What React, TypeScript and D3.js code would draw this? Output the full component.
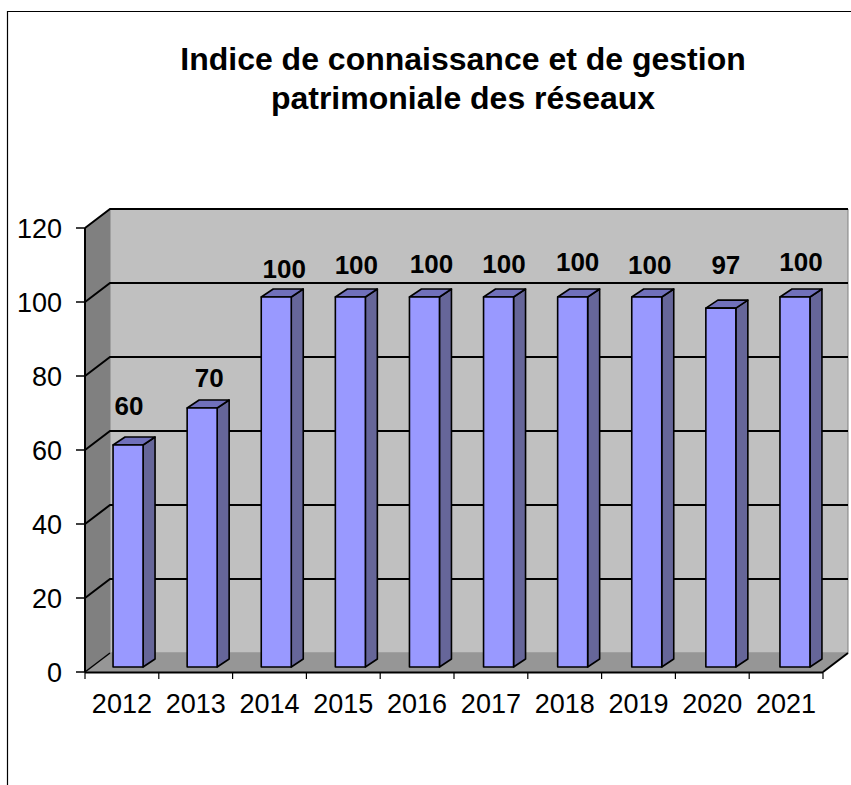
import * as d3 from "d3";

const years = ["2012", "2013", "2014", "2015", "2016", "2017", "2018", "2019", "2020", "2021"];
const values = [60, 70, 100, 100, 100, 100, 100, 100, 97, 100];
const yTicks = [0, 20, 40, 60, 80, 100, 120];
const titleLines = ["Indice de connaissance et de gestion", "patrimoniale des réseaux"];
// the labels sit unevenly in the original, px off the bar's front top edge
const labelLift = [39, 30, 28, 32, 33, 33, 35, 32, 43, 35];
const labelShift = [1, 7, 8, 6, 7, 5.5, 5, 3, 5, 6];

const WIDTH = 851;
const HEIGHT = 785;
const FONT = "'Liberation Sans', Arial, sans-serif";

// 3d box: front plane plus a depth offset to the back wall
const DEPTH_X = 25;
const DEPTH_Y = 19;
const BAR_DY = 5;
const BAR_W = 30;
const BAR_DEPTH_X = 12;
const BAR_DEPTH_Y = 8;

const x = d3.scaleBand<string>().domain(years).range([85, 823]);
// bars step a touch wider than the axis categories
const xBar = d3.scaleBand<string>().domain(years).range([91, 832]);
const y = d3.scaleLinear().domain([0, 120]).range([672, 228]);

const poly = (pts: [number, number][]) => d3.line()(pts) + "Z";

export default function App() {
  const x0 = x.range()[0];
  const x1 = x.range()[1];
  const y0 = y(0);
  const yTop = y(120);

  return (
    <svg
      width={WIDTH}
      height={HEIGHT}
      style={{ position: "absolute", left: 0, top: 0, background: "#fff" }}
      fontFamily={FONT}
    >
      {/* frame, cut off by the crop on the right and bottom */}
      <path d={`M7.5,${HEIGHT}V11.5H${WIDTH}`} fill="none" stroke="#000" strokeWidth={1.2} />

      {titleLines.map((t, i) => (
        <text key={t} x={463} y={70 + i * 38.5} textAnchor="middle" fontSize={32} fontWeight="bold" fill="#000">
          {t}
        </text>
      ))}

      {/* walls */}
      <path
        d={poly([[x0 + DEPTH_X, yTop - DEPTH_Y], [x1 + DEPTH_X, yTop - DEPTH_Y], [x1 + DEPTH_X, y0 - DEPTH_Y], [x0 + DEPTH_X, y0 - DEPTH_Y]])}
        fill="#c0c0c0"
        stroke="#808080"
      />
      <path
        d={poly([[x0, yTop], [x0 + DEPTH_X, yTop - DEPTH_Y], [x0 + DEPTH_X, y0 - DEPTH_Y], [x0, y0]])}
        fill="#808080"
      />
      <path
        d={poly([[x0, y0], [x0 + DEPTH_X, y0 - DEPTH_Y], [x1 + DEPTH_X, y0 - DEPTH_Y], [x1, y0]])}
        fill="#969696"
      />

      {/* gridlines run from the front edge round the left wall and along the back */}
      {yTicks.map((t) => (
        <path
          key={t}
          d={`M${x0},${y(t)}L${x0 + DEPTH_X},${y(t) - DEPTH_Y}` + (t > 0 ? `H${x1 + DEPTH_X}` : "")}
          fill="none"
          stroke="#000"
          strokeWidth={t === 0 ? 1.5 : 2}
        />
      ))}
      <path d={`M${x0},${yTop}V${y0}`} stroke="#000" strokeWidth={2} />
      <path d={`M${x1},${y0}L${x1 + DEPTH_X},${y0 - DEPTH_Y}`} stroke="#000" strokeWidth={2} />

      {/* y axis */}
      {yTicks.map((t) => (
        <g key={t}>
          <line x1={x0 - 9} x2={x0} y1={y(t)} y2={y(t)} stroke="#000" strokeWidth={1.5} />
          <text x={x0 - 23} y={y(t)} dy="0.36em" textAnchor="end" fontSize={27} fill="#000">
            {t}
          </text>
        </g>
      ))}

      {/* x axis */}
      <line x1={x0} x2={x1} y1={y0 + 0.5} y2={y0 + 0.5} stroke="#000" strokeWidth={2} />
      {[...years.map((d) => x(d) as number), x1].map((px) => (
        <line key={px} x1={px} x2={px} y1={y0} y2={y0 + 7} stroke="#000" strokeWidth={1.2} />
      ))}
      {years.map((d) => (
        <text
          key={d}
          x={(x(d) as number) + x.bandwidth() / 2}
          y={703}
          dy="0.36em"
          textAnchor="middle"
          fontSize={27}
          fill="#000"
        >
          {d}
        </text>
      ))}

      {/* bars */}
      {years.map((d, i) => {
        const left = (xBar(d) as number) + (xBar.bandwidth() - BAR_W) / 2;
        const right = left + BAR_W;
        const bottom = y(0) - BAR_DY;
        const top = y(values[i]) - BAR_DY;
        return (
          <g key={d} stroke="#000" strokeWidth={1.6} strokeLinejoin="round">
            <path
              d={poly([[right, top], [right + BAR_DEPTH_X, top - BAR_DEPTH_Y], [right + BAR_DEPTH_X, bottom - BAR_DEPTH_Y], [right, bottom]])}
              fill="#666699"
            />
            <path
              d={poly([[left, top], [left + BAR_DEPTH_X, top - BAR_DEPTH_Y], [right + BAR_DEPTH_X, top - BAR_DEPTH_Y], [right, top]])}
              fill="#7070bb"
            />
            <rect x={left} y={top} width={BAR_W} height={bottom - top} fill="#9999ff" />
            <text
              x={left + BAR_W / 2 + labelShift[i]}
              y={top - labelLift[i]}
              dy="0.36em"
              textAnchor="middle"
              fontSize={26}
              fontWeight="bold"
              fill="#000"
              stroke="none"
            >
              {values[i]}
            </text>
          </g>
        );
      })}
    </svg>
  );
}
